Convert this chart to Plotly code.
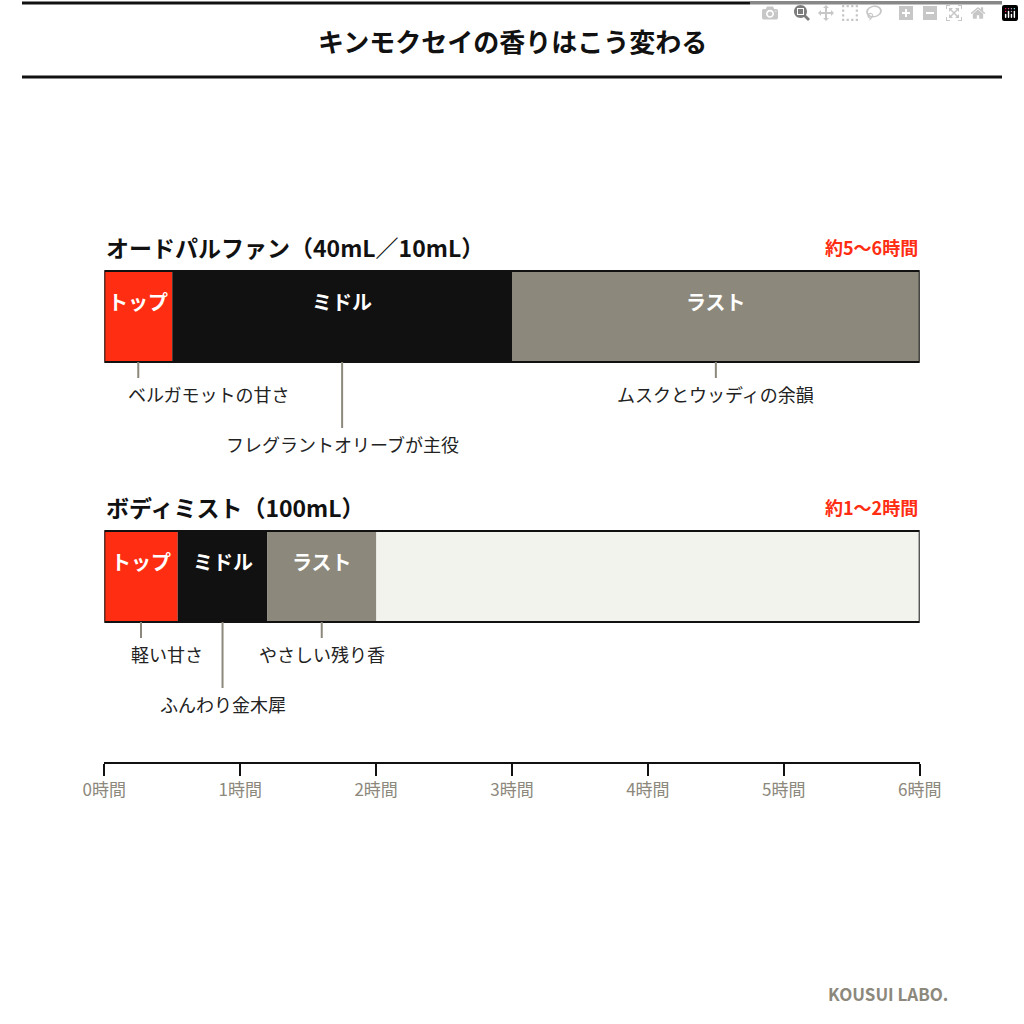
import plotly.graph_objects as go

# data (hours)
products = ["オードパルファン（40mL／10mL）", "ボディミスト（100mL）"]
durations = ["約5〜6時間", "約1〜2時間"]
phases = ["トップ", "ミドル", "ラスト"]
phase_ends = [[0.5, 3.0, 6.0], [0.54, 1.2, 2.0]]
notes = [["ベルガモットの甘さ", "フレグラントオリーブが主役", "ムスクとウッディの余韻"],
         ["軽い甘さ", "ふんわり金木犀", "やさしい残り香"]]
note_x = [[0.25, 1.75, 4.5], [0.27, 0.87, 1.6]]
note_long = [[False, True, False], [False, True, False]]
note_anchor = [["left", "center", "center"], ["left", "center", "center"]]
tick_vals = [0, 1, 2, 3, 4, 5, 6]
tick_text = [f"{v}時間" for v in tick_vals]

colors = ["#ff2d12", "#111111", "#8c887c"]
FONT = "Noto Sans CJK JP"
bar_tops = [271, 531]
bar_h = 91

fig = go.Figure()
shapes, annos = [], []

for i, name in enumerate(products):
    top = bar_tops[i]
    bot = top + bar_h
    # background
    shapes.append(dict(type="rect", x0=0, x1=6, y0=top, y1=bot, fillcolor="#f3f3ee", line_width=0, layer="below"))
    start = 0
    for j, end in enumerate(phase_ends[i]):
        shapes.append(dict(type="rect", x0=start, x1=end, y0=top, y1=bot, fillcolor=colors[j], line_width=0))
        annos.append(dict(x=(start + end) / 2, y=top + 30, text=f"<b>{phases[j]}</b>", showarrow=False,
                          font=dict(size=20, color="white", family=FONT)))
        start = end
    shapes.append(dict(type="rect", x0=0, x1=6, y0=top, y1=bot, line=dict(color="#111", width=2)))
    # product title & duration
    annos.append(dict(x=0, y=top - 24, text=f"<b>{name}</b>", showarrow=False, xanchor="left",
                      font=dict(size=23, color="#111", family=FONT)))
    annos.append(dict(x=6, y=top - 24, text=f"<b>{durations[i]}</b>", showarrow=False, xanchor="right",
                      font=dict(size=18, color="#ff2d12", family=FONT)))
    # notes
    for k, txt in enumerate(notes[i]):
        ly = bot + (66 if note_long[i][k] else 16)
        shapes.append(dict(type="line", x0=note_x[i][k], x1=note_x[i][k], y0=bot, y1=ly,
                           line=dict(color="#8c887c", width=2)))
        anc = note_anchor[i][k]
        annos.append(dict(x=note_x[i][k], y=ly + 16, text=txt, showarrow=False, xanchor=anc,
                          xshift=-12 if anc == "left" else 0,
                          font=dict(size=18, color="#222", family=FONT)))

# header
shapes.append(dict(type="line", xref="paper", x0=0, x1=1, y0=3, y1=3, line=dict(color="#111", width=3)))
shapes.append(dict(type="line", xref="paper", x0=0, x1=1, y0=77, y1=77, line=dict(color="#111", width=3)))
annos.append(dict(xref="paper", x=0.5, y=40, text="<b>キンモクセイの香りはこう変わる</b>", showarrow=False,
                  font=dict(size=26, color="#111", family=FONT)))
annos.append(dict(xref="paper", x=970 / 1024, y=993, xanchor="right", text="<b>KOUSUI LABO.</b>", showarrow=False,
                  font=dict(size=17, color="#8c887c", family=FONT)))

fig.add_trace(go.Scatter(x=[0, 6], y=[0, 0], mode="markers", marker=dict(opacity=0), hoverinfo="skip",
                         showlegend=False))

fig.update_layout(
    width=1024, height=1024, margin=dict(l=0, r=0, t=0, b=0),
    paper_bgcolor="white", plot_bgcolor="rgba(0,0,0,0)",
    shapes=shapes, annotations=annos, showlegend=False,
    xaxis=dict(domain=[86 / 1024, 938 / 1024], range=[0, 6], anchor="free", position=1 - 763 / 1024,
               showgrid=False, zeroline=False, showline=True, linecolor="#111", linewidth=2,
               ticks="outside", ticklen=12, tickcolor="#111", tickwidth=2,
               tickvals=tick_vals, ticktext=tick_text,
               tickfont=dict(size=17, color="#8c887c", family=FONT)),
    yaxis=dict(domain=[0, 1], range=[1024, 0], visible=False),
)

fig.write_html("out.html", config={"responsive": False},
               post_script="document.body.style.margin='0';document.body.style.overflow='hidden';")
